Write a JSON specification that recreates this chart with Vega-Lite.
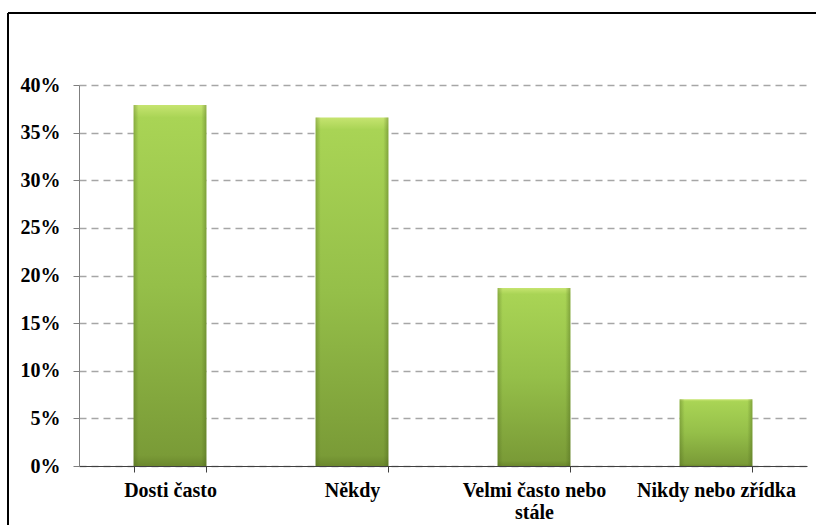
{
  "$schema": "https://vega.github.io/schema/vega-lite/v6.json",
  "autosize": "none",
  "width": 808,
  "height": 512,
  "padding": {"left": 8, "top": 13, "right": 0, "bottom": 0},
  "background": "white",
  "data": {
    "values": [
      {"odpoved": "Dosti často", "podil": 0.379},
      {"odpoved": "Někdy", "podil": 0.366},
      {"odpoved": "Velmi často nebo stále", "podil": 0.187},
      {"odpoved": "Nikdy nebo zřídka", "podil": 0.070}
    ]
  },
  "layer": [
    {
      "encoding": {
        "x": {
          "field": "odpoved",
          "type": "nominal",
          "sort": null,
          "title": null,
          "scale": {"range": [71, 799], "paddingInner": 0.6, "paddingOuter": 0.3},
          "axis": {
            "offset": -59,
            "labelAngle": 0,
            "labelFont": "Liberation Serif",
            "labelFontWeight": "bold",
            "labelFontSize": 20,
            "labelColor": "#000000",
            "labelPadding": 8,
            "labelLineHeight": 22,
            "labelLimit": 300,
            "labelExpr": "datum.value == 'Velmi často nebo stále' ? ['Velmi často nebo', 'stále'] : datum.value",
            "tickBand": "extent",
            "tickSize": 6,
            "tickColor": "#404040",
            "domainColor": "#404040",
            "domainWidth": 1,
            "grid": false
          }
        },
        "y": {
          "field": "podil",
          "type": "quantitative",
          "title": null,
          "scale": {"domain": [0, 0.4], "range": [453, 72], "nice": false},
          "axis": {
            "offset": -71,
            "values": [0, 0.05, 0.1, 0.15, 0.2, 0.25, 0.3, 0.35, 0.4],
            "format": ".0%",
            "labelFont": "Liberation Serif",
            "labelFontWeight": "bold",
            "labelFontSize": 20,
            "labelColor": "#000000",
            "labelPadding": 13,
            "tickSize": 6,
            "tickColor": "#7f7f7f",
            "domainColor": "#7f7f7f",
            "grid": true,
            "gridColor": "#a6a6a6",
            "gridWidth": 1.5,
            "gridDash": [7, 5]
          }
        }
      },
      "layer": [
        {
          "mark": {
            "type": "bar",
            "color": {
              "gradient": "linear",
              "x1": 0, "y1": 0, "x2": 0, "y2": 1,
              "stops": [
                {"offset": 0, "color": "#c6e470"},
                {"offset": 0.035, "color": "#a9d455"},
                {"offset": 0.5, "color": "#95bf49"},
                {"offset": 0.97, "color": "#7a9b37"},
                {"offset": 1, "color": "#6b882d"}
              ]
            }
          }
        },
        {
          "mark": {
            "type": "bar",
            "color": {
              "gradient": "linear",
              "x1": 0, "y1": 0, "x2": 1, "y2": 0,
              "stops": [
                {"offset": 0, "color": "rgba(70,95,25,0.35)"},
                {"offset": 0.07, "color": "rgba(70,95,25,0)"},
                {"offset": 0.93, "color": "rgba(70,95,25,0)"},
                {"offset": 1, "color": "rgba(70,95,25,0.4)"}
              ]
            }
          }
        }
      ]
    },
    {
      "data": {"values": [{"okraj": "horni"}]},
      "mark": {"type": "rule", "color": "#000000", "strokeWidth": 2},
      "encoding": {"y": {"value": 0}}
    },
    {
      "data": {"values": [{"okraj": "levy"}]},
      "mark": {"type": "rule", "color": "#000000", "strokeWidth": 2},
      "encoding": {"x": {"value": 0}}
    }
  ],
  "config": {
    "view": {"stroke": null}
  }
}
